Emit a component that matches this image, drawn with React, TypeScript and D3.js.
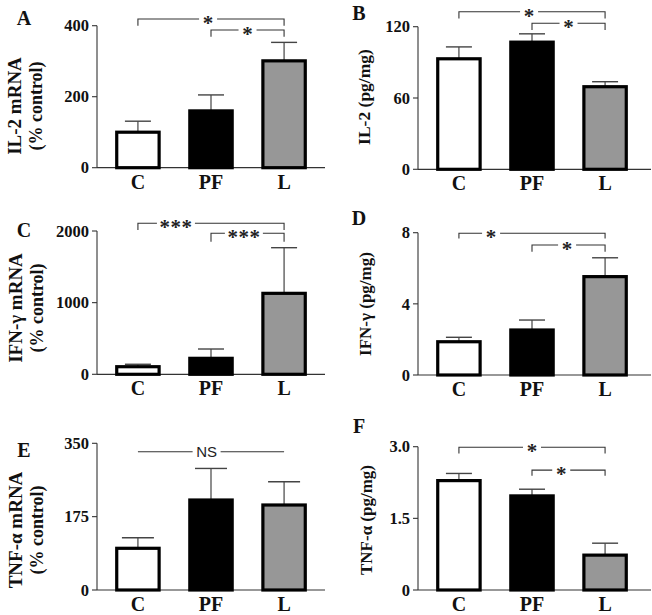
import React from "react";
import * as d3 from "d3";

const categories = ["C", "PF", "L"];
const barFills = ["#ffffff", "#000000", "#979797"];

// Panel A: IL-2 mRNA (% control)
const il2MrnaMean = [100, 160, 301];
const il2MrnaSem = [31, 45, 52];
const il2MrnaTicks = [0, 200, 400];
// Panel B: IL-2 (pg/mg)
const il2ProtMean = [93, 107, 69.5];
const il2ProtSem = [10, 7, 4.2];
const il2ProtTicks = [0, 60, 120];
// Panel C: IFN-γ mRNA (% control)
const ifnMrnaMean = [106, 223, 1130];
const ifnMrnaSem = [34, 130, 637];
const ifnMrnaTicks = [0, 1000, 2000];
// Panel D: IFN-γ (pg/mg)
const ifnProtMean = [1.87, 2.53, 5.53];
const ifnProtSem = [0.25, 0.56, 1.06];
const ifnProtTicks = [0, 4, 8];
// Panel E: TNF-α mRNA (% control)
const tnfMrnaMean = [99.5, 214.7, 202.8];
const tnfMrnaSem = [25.3, 75.3, 55.6];
const tnfMrnaTicks = [0, 175, 350];
// Panel F: TNF-α (pg/mg)
const tnfProtMean = [2.29, 1.97, 0.73];
const tnfProtSem = [0.15, 0.14, 0.25];
const tnfProtTicks = [0, 1.5, 3.0];

// Significance comparisons: [from, to, label, level (data units), drop (data units), label position fraction]
const sigA = [["C", "L", "*", 419, 400, 0.48], ["PF", "L", "*", 388, 369, 0.5]];
const sigB = [["C", "L", "*", 132.6, 127, 0.48], ["PF", "L", "*", 122.9, 117.2, 0.5]];
const sigC = [["C", "L", "***", 2108, 2014, 0.26], ["PF", "L", "***", 1968, 1851, 0.45]];
const sigD = [["C", "L", "*", 7.97, 7.68, 0.22], ["PF", "L", "*", 7.31, 6.93, 0.48]];
const sigE = [["C", "L", "NS", 330, 330, 0.47]];
const sigF = [["C", "L", "*", 2.99, 2.86, 0.5], ["PF", "L", "*", 2.51, 2.39, 0.4]];

const SERIF = "'Liberation Serif', 'Times New Roman', serif";
const fmtInt = d3.format("d");
const fmtDec = (v: number) => (v === 0 ? "0" : d3.format(".1f")(v));

type PanelCfg = {
  letter: string;
  labelLines: string[];
  labelSizes: number[];
  labelBold: boolean;
  mean: number[];
  sem: number[];
  ticks: number[];
  tickFmt: (v: number) => string;
  sig: any[];
  axX: number;
  yTop: number;
  yZero: number;
  rightEnd: number;
  letterX: number;
  letterY: number;
  labelX: number[];
  labelY: number;
  capW: number;
};

const panels: PanelCfg[] = [
  { letter: "A", labelLines: ["IL-2 mRNA", "(% control)"], labelSizes: [19, 18], labelBold: true, mean: il2MrnaMean, sem: il2MrnaSem, ticks: il2MrnaTicks, tickFmt: fmtInt, sig: sigA,
    axX: 97, yTop: 25.7, yZero: 167.7, rightEnd: 325, letterX: 24, letterY: 25, labelX: [14, 36], labelY: 106, capW: 26 },
  { letter: "B", labelLines: ["IL-2 (pg/mg)"], labelSizes: [17.5], labelBold: true, mean: il2ProtMean, sem: il2ProtSem, ticks: il2ProtTicks, tickFmt: fmtInt, sig: sigB,
    axX: 418, yTop: 26.7, yZero: 169.3, rightEnd: 651, letterX: 359, letterY: 20, labelX: [364], labelY: 97, capW: 26 },
  { letter: "C", labelLines: ["IFN-γ mRNA", "(% control)"], labelSizes: [19, 18], labelBold: true, mean: ifnMrnaMean, sem: ifnMrnaSem, ticks: ifnMrnaTicks, tickFmt: fmtInt, sig: sigC,
    axX: 97, yTop: 231, yZero: 374.3, rightEnd: 325, letterX: 24, letterY: 237, labelX: [15, 37], labelY: 308, capW: 26 },
  { letter: "D", labelLines: ["IFN-γ (pg/mg)"], labelSizes: [17], labelBold: false, mean: ifnProtMean, sem: ifnProtSem, ticks: ifnProtTicks, tickFmt: fmtInt, sig: sigD,
    axX: 418, yTop: 232.7, yZero: 375, rightEnd: 651, letterX: 359, letterY: 225, labelX: [365], labelY: 304, capW: 26 },
  { letter: "E", labelLines: ["TNF-α mRNA", "(% control)"], labelSizes: [19, 18], labelBold: true, mean: tnfMrnaMean, sem: tnfMrnaSem, ticks: tnfMrnaTicks, tickFmt: fmtInt, sig: sigE,
    axX: 97, yTop: 443.3, yZero: 590, rightEnd: 325, letterX: 24, letterY: 457, labelX: [15, 37], labelY: 530, capW: 32 },
  { letter: "F", labelLines: ["TNF-α (pg/mg)"], labelSizes: [17], labelBold: false, mean: tnfProtMean, sem: tnfProtSem, ticks: tnfProtTicks, tickFmt: fmtDec, sig: sigF,
    axX: 418, yTop: 446.7, yZero: 590, rightEnd: 651, letterX: 359, letterY: 433, labelX: [366], labelY: 520, capW: 26 },
];

function Panel({ p }: { p: PanelCfg }) {
  const x = d3.scaleBand<string>().domain(categories).range([p.axX, p.axX + 228]).paddingInner(0.42).paddingOuter(0.27);
  const y = d3.scaleLinear().domain([0, p.ticks[p.ticks.length - 1]]).range([p.yZero, p.yTop]);
  const bw = x.bandwidth();
  const cx = (c: string) => (x(c) as number) + bw / 2;
  return (
    <g>
      <text x={p.letterX} y={p.letterY} textAnchor="middle" fontFamily={SERIF} fontWeight="bold" fontSize={20} fill="#111">{p.letter}</text>
      {p.labelLines.map((l, i) => (
        <text key={i} transform={`translate(${p.labelX[i]},${p.labelY}) rotate(-90)`} textAnchor="middle" dy="0.35em"
          fontFamily={SERIF} fontWeight={p.labelBold ? "bold" : "600"} fontSize={p.labelSizes[i]} fill="#111">{l}</text>
      ))}
      {/* y axis */}
      <line x1={p.axX} x2={p.axX} y1={y(p.ticks[p.ticks.length - 1])} y2={p.yZero} stroke="#333" strokeWidth={1.1} />
      {p.ticks.map((t) => (
        <g key={t}>
          <line x1={p.axX - 5} x2={p.axX} y1={y(t)} y2={y(t)} stroke="#333" strokeWidth={1.1} />
          <text x={p.axX - 8} y={y(t)} dy="0.35em" textAnchor="end" fontFamily={SERIF} fontWeight="bold" fontSize={16.5} fill="#111">{p.tickFmt(t)}</text>
        </g>
      ))}
      {/* x axis */}
      <line x1={p.axX} x2={p.rightEnd} y1={p.yZero} y2={p.yZero} stroke="#333" strokeWidth={1.2} />
      {categories.map((c) => (
        <text key={c} x={cx(c)} y={p.yZero + 21} textAnchor="middle" fontFamily={SERIF} fontWeight="bold" fontSize={20} fill="#111">{c}</text>
      ))}
      {/* error bars */}
      {categories.map((c, i) => (
        <g key={c}>
          <line x1={cx(c)} x2={cx(c)} y1={y(p.mean[i])} y2={y(p.mean[i] + p.sem[i])} stroke="#444" strokeWidth={1.2} />
          <line x1={cx(c) - p.capW / 2} x2={cx(c) + p.capW / 2} y1={y(p.mean[i] + p.sem[i])} y2={y(p.mean[i] + p.sem[i])} stroke="#444" strokeWidth={1.4} />
        </g>
      ))}
      {/* bars */}
      {categories.map((c, i) => (
        <rect key={c} x={x(c)} y={y(p.mean[i])} width={bw} height={p.yZero - y(p.mean[i])} fill={barFills[i]} stroke="#000" strokeWidth={3.2} />
      ))}
      {/* significance */}
      {p.sig.map((s, k) => {
        const [from, to, label, level, drop, frac] = s;
        const x1 = cx(from), x2 = cx(to);
        const ly = y(level), dy = y(drop);
        const sx = x1 + (x2 - x1) * frac;
        const isNS = label === "NS";
        const half = isNS ? 14 : label.length * 5 + 4;
        return (
          <g key={k}>
            <path d={`M${x1},${dy}V${ly}H${sx - half}`} fill="none" stroke="#333" strokeWidth={1.1} />
            <path d={`M${sx + half},${ly}H${x2}V${dy}`} fill="none" stroke="#333" strokeWidth={1.1} />
            {isNS ? (
              <text x={sx} y={ly + 5.5} textAnchor="middle" fontFamily="'Liberation Sans', Arial, sans-serif" fontSize={15} fill="#222">{label}</text>
            ) : (
              <text x={sx} y={ly + 11} textAnchor="middle" fontFamily={SERIF} fontWeight="bold" fontSize={21} fill="#222" letterSpacing={label.length > 1 ? 0.5 : 0}>{label}</text>
            )}
          </g>
        );
      })}
    </g>
  );
}

export default function App() {
  return (
    <svg width={652} height={615} style={{ position: "absolute", left: 0, top: 0, background: "#fff" }}>
      <rect width={652} height={615} fill="#fff" />
      {panels.map((p) => (
        <Panel key={p.letter} p={p} />
      ))}
    </svg>
  );
}
